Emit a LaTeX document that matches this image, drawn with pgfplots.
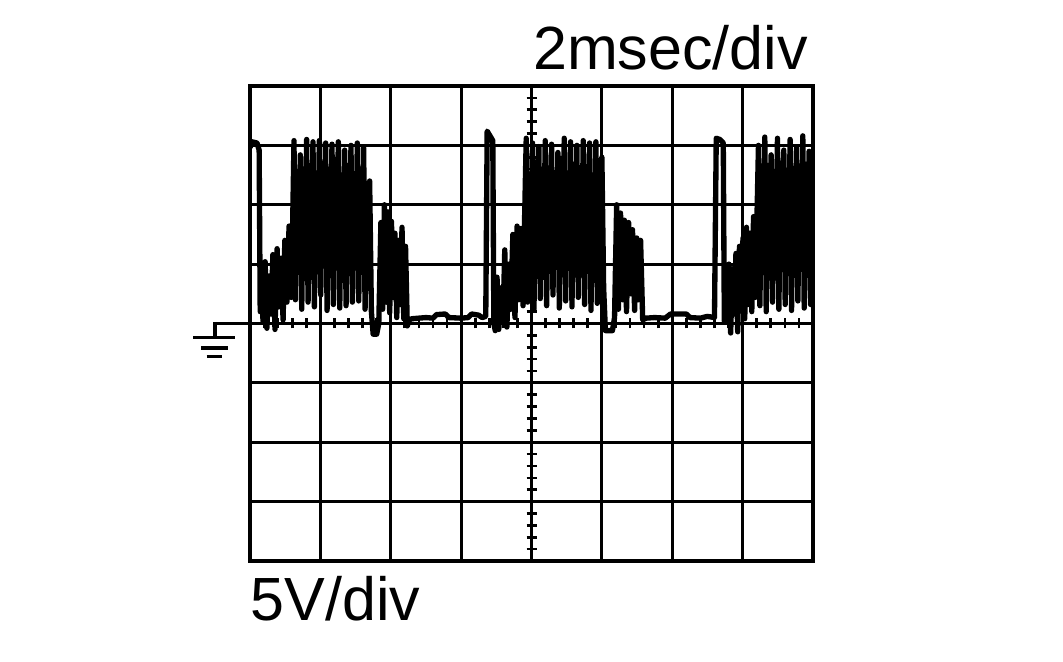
\documentclass[border=0pt]{standalone}
\usepackage{fontspec}
\setmainfont{Liberation Sans}
\usepackage{pgfplots}
\pgfplotsset{compat=1.18}
\begin{document}
\begin{tikzpicture}
\useasboundingbox (0,0) rectangle (797.25pt,495.75pt);
\begin{axis}[
  at={(187.5pt,75pt)}, anchor=south west,
  scale only axis, width=422.25pt, height=356.25pt,
  xmin=0, xmax=16, ymin=-20, ymax=20,
  xtick={0,2,...,16}, ytick={-20,-15,...,20},
  xticklabels={}, yticklabels={},
  major tick length=0pt,
  grid=major,
  major grid style={black, line width=2.4pt},
  axis line style={black, line width=3.4pt},
]
\addplot[black, line width=4pt, line join=round, mark=none] coordinates {
(0.00,14.8)(0.05,15.3)(0.20,15.2)(0.26,14.6)(0.29,1.0)
(0.31,4.6)(0.37,0.2)(0.43,5.2)(0.48,-0.4)(0.54,4.0)(0.60,0.8)(0.65,5.8)(0.71,-0.5)
(0.77,6.3)(0.82,1.4)(0.88,5.5)(0.94,0.3)(0.99,7.0)(1.05,1.8)(1.11,8.2)(1.17,2.2)(1.21,8.0)
(1.25,15.4)(1.29,2.0)(1.34,12.8)(1.38,5.0)(1.43,14.2)(1.47,1.2)(1.52,13.0)(1.56,4.8)
(1.61,15.5)(1.65,1.8)(1.70,11.8)(1.74,5.5)(1.79,15.3)(1.83,1.4)(1.88,12.5)(1.92,4.6)
(1.97,15.4)(2.01,2.4)(2.06,13.5)(2.10,5.2)(2.15,15.2)(2.19,1.1)(2.24,12.2)(2.28,4.9)
(2.33,15.1)(2.37,1.6)(2.42,13.8)(2.46,5.6)(2.51,15.3)(2.55,1.3)(2.60,12.0)(2.64,4.7)
(2.69,14.6)(2.73,1.5)(2.78,13.3)(2.82,5.3)(2.87,15.0)(2.91,1.8)(2.96,12.6)(3.00,5.0)
(3.05,15.2)(3.09,1.9)(3.14,13.0)(3.18,4.6)(3.23,14.8)(3.27,1.2)(3.32,11.5)(3.36,4.4)(3.40,12.0)
(3.45,1.0)(3.50,-0.9)(3.60,-0.9)(3.66,0.0)(3.72,8.5)(3.77,1.2)(3.82,10.0)(3.87,1.8)
(3.92,9.4)(3.97,0.9)(4.02,8.6)(4.07,2.2)(4.12,7.6)(4.17,0.5)(4.22,7.0)(4.27,1.6)
(4.32,8.1)(4.37,0.4)(4.42,6.5)(4.47,-0.2)(4.52,0.3)
(4.60,0.4)(5.00,0.5)(5.20,0.45)(5.30,0.75)(5.55,0.8)(5.65,0.5)(6.00,0.45)(6.20,0.5)
(6.30,0.8)(6.50,0.7)(6.60,0.5)(6.70,0.6)
(6.74,16.2)(6.82,15.8)(6.90,15.4)(6.93,0.0)(6.97,-0.6)
(7.02,3.9)(7.07,-0.5)(7.13,3.0)(7.19,0.2)(7.24,6.2)(7.30,-0.3)(7.36,5.0)(7.41,1.2)
(7.47,7.5)(7.53,0.5)(7.59,8.2)(7.64,2.0)(7.70,8.0)(7.76,1.5)(7.80,8.3)
(7.85,15.6)(7.89,1.8)(7.94,12.4)(7.98,4.6)(8.03,15.2)(8.07,1.2)(8.12,13.6)(8.16,4.3)
(8.21,14.9)(8.25,2.1)(8.30,12.0)(8.34,4.8)(8.39,15.4)(8.43,1.5)(8.48,13.1)(8.52,4.4)
(8.57,15.1)(8.61,2.4)(8.66,12.7)(8.70,5.0)(8.75,14.4)(8.79,1.3)(8.84,13.9)(8.88,4.1)
(8.93,15.6)(8.97,1.9)(9.02,12.3)(9.06,4.7)(9.11,15.3)(9.15,1.4)(9.20,13.4)(9.24,4.2)
(9.29,15.0)(9.33,2.2)(9.38,12.8)(9.42,4.9)(9.47,15.4)(9.51,1.6)(9.56,13.2)(9.60,4.5)
(9.65,15.2)(9.69,1.1)(9.74,12.5)(9.78,4.6)(9.83,15.3)(9.87,1.7)(9.92,13.7)(9.96,4.0)(10.00,14.0)
(10.05,3.0)(10.10,-0.6)(10.30,-0.6)(10.36,0.5)(10.42,10.0)(10.47,1.2)(10.53,9.3)(10.59,2.0)
(10.64,8.7)(10.70,1.0)(10.76,8.5)(10.82,2.5)(10.87,7.9)(10.93,1.1)(10.99,7.2)(11.04,2.0)
(11.10,7.0)(11.16,0.3)(11.25,0.45)
(11.50,0.5)(11.80,0.45)(11.95,0.8)(12.40,0.8)(12.50,0.5)(12.80,0.45)(13.00,0.6)(13.20,0.5)
(13.25,15.6)(13.35,15.5)(13.45,15.2)(13.48,0.2)
(13.51,4.8)(13.56,0.5)(13.61,5.0)(13.66,-0.8)(13.71,4.6)(13.76,0.8)(13.81,5.9)(13.86,-0.7)
(13.91,6.5)(13.96,1.3)(14.01,7.2)(14.06,0.4)(14.11,8.1)(14.16,1.6)(14.21,7.6)(14.26,1.0)
(14.31,9.0)(14.36,2.2)(14.41,9.3)
(14.45,15.0)(14.49,1.5)(14.54,12.6)(14.58,5.6)(14.63,15.7)(14.67,1.0)(14.72,13.3)(14.76,6.0)
(14.81,14.2)(14.85,1.8)(14.90,12.8)(14.94,5.4)(14.99,15.6)(15.03,1.2)(15.08,13.5)(15.12,6.2)
(15.17,14.6)(15.21,1.6)(15.26,12.9)(15.30,5.5)(15.35,15.5)(15.39,1.1)(15.44,13.0)(15.48,6.0)
(15.53,14.8)(15.57,1.9)(15.62,12.8)(15.66,5.3)(15.71,15.8)(15.75,1.3)(15.80,13.4)(15.84,5.8)
(15.89,14.5)(15.93,1.6)(15.98,13.8)(16.00,6.0)
};
\end{axis}
% centre graticule minor ticks
\foreach \i in {1,...,39}{
  \draw[line width=2pt] (394.875pt,75pt+\i*8.90625pt) -- ++(7.5pt,0);
  \draw[line width=2pt] (187.5pt+\i*10.55625pt,249.375pt) -- ++(0,7.5pt);
}
% ground symbol
\draw[line width=2.8pt] (159.75pt,253.125pt) -- (187.5pt,253.125pt);
\draw[line width=2.8pt] (161.25pt,254.4pt) -- (161.25pt,242.6pt);
\draw[line width=2.6pt] (145pt,242.6pt) -- (176.25pt,242.6pt);
\draw[line width=2.4pt] (150.75pt,234.75pt) -- (170.75pt,234.75pt);
\draw[line width=2.4pt] (155pt,228.5pt) -- (166.25pt,228.5pt);
% labels
\node[anchor=base east, inner sep=0pt, font=\fontsize{45.75}{50}\selectfont] at (606pt,443.25pt) {2msec/div};
\node[anchor=base west, inner sep=0pt, font=\fontsize{45.75}{50}\selectfont] at (188pt,30.75pt) {5V/div};
\end{tikzpicture}
\end{document}
